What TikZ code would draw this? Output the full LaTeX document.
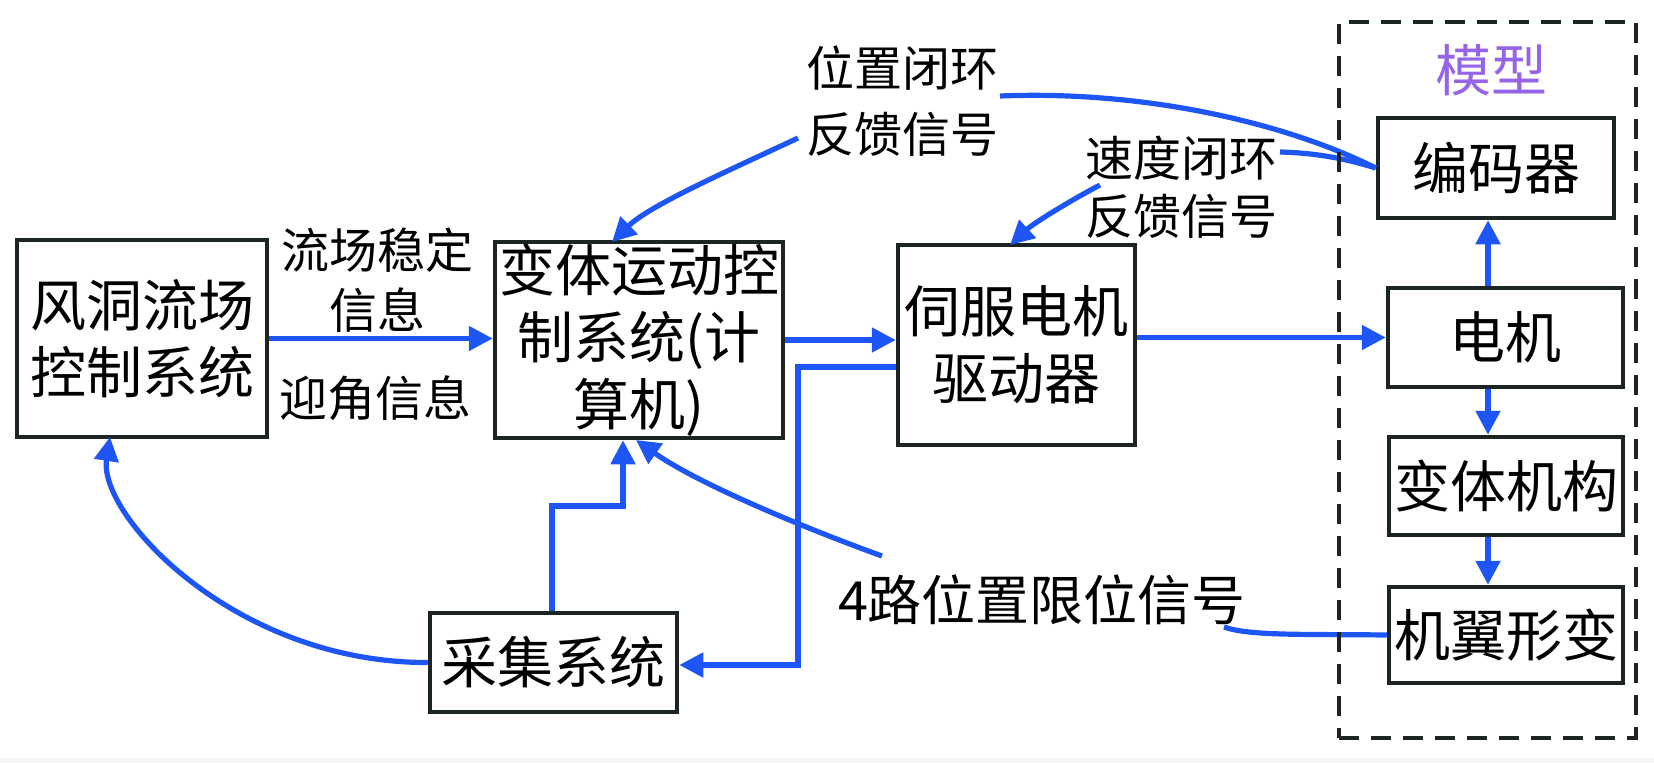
\documentclass[tikz,border=0pt]{standalone}
\usepackage{fontspec}
\setmainfont{Noto Sans CJK SC}
\usetikzlibrary{arrows.meta}
\definecolor{lblue}{RGB}{30,85,245}
\definecolor{bxline}{RGB}{28,36,36}
\definecolor{mpurple}{RGB}{150,100,230}
\begin{document}
\begin{tikzpicture}[x=1pt,y=-1pt,
  box/.style={draw=bxline, line width=4.5pt, fill=white, inner sep=0pt, align=center, font=\fontsize{56}{67}\selectfont},
  lbl/.style={inner sep=0pt, align=center, font=\fontsize{48}{60}\selectfont},
  conn/.style={draw=lblue, line width=5.2pt},
  arr/.style={conn, -{Triangle[length=24pt,width=24pt]}},
]
\useasboundingbox (0,0) rectangle (1654,763);
\fill[gray!8] (0,758) rectangle (1654,763);

% boxes
\node[box, minimum width=250pt, minimum height=197pt] (A) at (142,338.5) {风洞流场\\控制系统};
\node[box, minimum width=288pt, minimum height=196pt] (B) at (639,340) {变体运动控\\制系统(计\\算机)};
\node[box, minimum width=237pt, minimum height=200pt] (C) at (1016.5,345) {伺服电机\\驱动器};
\node[box, minimum width=247pt, minimum height=99pt] (D) at (553.5,662.5) {采集系统};
\node[box, minimum width=236pt, minimum height=100pt] (E) at (1496,168) {编码器};
\node[box, minimum width=235pt, minimum height=99pt] (F) at (1505.5,337.5) {电机};
\node[box, minimum width=234pt, minimum height=98pt] (G) at (1506,486) {变体机构};
\node[box, minimum width=234pt, minimum height=96pt] (H) at (1506,635) {机翼形变};
\node[text=mpurple, font=\fontsize{56}{60}\selectfont, inner sep=0pt] (mx) at (1491,70) {模型};

% labels
\node[lbl] (l1) at (377,280) {流场稳定\\信息};
\node[lbl] (l2) at (375,398) {迎角信息};
\node[lbl, font=\fontsize{48}{66}\selectfont] (l3) at (902,101) {位置闭环\\反馈信号};
\node[lbl, font=\fontsize{48}{58}\selectfont] (l4) at (1181,187) {速度闭环\\反馈信号};
\node[lbl, font=\fontsize{54}{60}\selectfont] (l5) at (1042,600) {4路位置限位信号};

% coordinates
\coordinate (c1) at (798,367);
\coordinate (c2) at (798,665);
\coordinate (d1) at (552,506);
\coordinate (d2) at (623,506);
\coordinate (l5a) at (882,556);
\coordinate (b5) at (636,440);
\coordinate (a1) at (110,437);
\coordinate (l3a) at (798,138);
\coordinate (b3) at (612,242);
\coordinate (l3b) at (1000,96);
\coordinate (l4b) at (1280,152);
\coordinate (l4a) at (1100,185);
\coordinate (c4) at (1010,245);
\coordinate (l5b) at (1224,627);
\coordinate (ax) at (1488,0);

% connectors
\draw[arr] (A.east) -- (A.east -| B.west);
\draw[arr] (B.east) -- (B.east -| C.west);
\draw[arr] (C.east |- F.west) -- (F.west);
\draw[arr] (C.west |- c1) -- (c1) -- (c2) -- (c2 -| D.east);
\draw[arr] (D.north -| d1) -- (d1) -- (d2) -- (d2 |- B.south);
\draw[arr] (l5a) .. controls (810,530) and (700,485) .. (b5);
\draw[arr] (D.west) .. controls (235,663) and (98,515) .. (a1);
\draw[arr] (l3a) .. controls (730,170) and (650,205) .. (b3);
\draw[conn] (l3b) .. controls (1150,90) and (1290,125) .. (E.west);
\draw[conn] (l4b) .. controls (1320,153) and (1350,160) .. (E.west);
\draw[arr] (l4a) .. controls (1075,198) and (1035,222) .. (c4);
\draw[conn] (l5b) .. controls (1250,636) and (1300,634) .. (H.west);
\draw[arr] (F.north -| ax) -- (E.south -| ax);
\draw[arr] (F.south -| ax) -- (G.north -| ax);
\draw[arr] (G.south -| ax) -- (H.north -| ax);

% model frame
\node[draw=bxline, line width=4.5pt, dash pattern=on 20pt off 12pt, minimum width=297pt, minimum height=716pt, inner sep=0pt] (M) at (1487.5,380) {};
\end{tikzpicture}
\end{document}
